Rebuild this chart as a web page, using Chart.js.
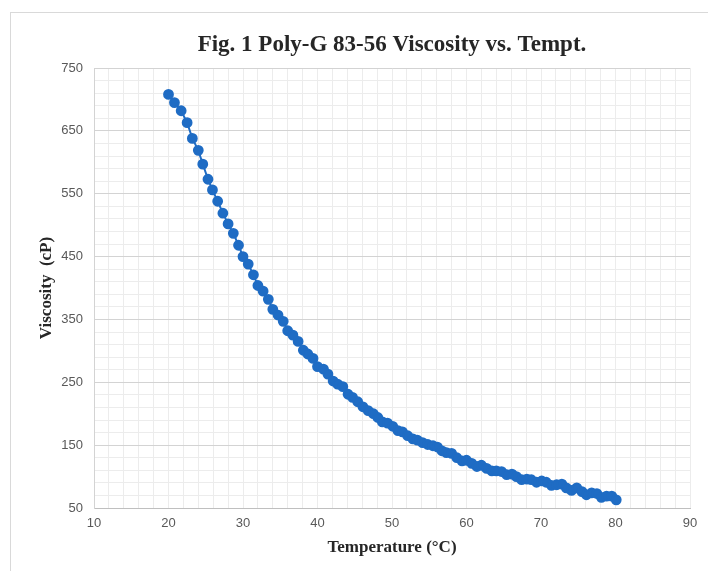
<!DOCTYPE html>
<html>
<head>
<meta charset="utf-8">
<script src="https://cdn.jsdelivr.net/npm/chart.js@4.4.1/dist/chart.umd.min.js"></script>
<style>
    html, body { margin: 0; padding: 0; background: #fff; overflow: hidden; }
    #wrap { position: relative; width: 708px; height: 571px; }
    #frame { position: absolute; left: 10px; top: 12px; width: 720px; height: 600px; border: 1px solid #d9d9d9; box-sizing: border-box; }
    #chart { position: absolute; left: 0; top: 0; }
</style>
</head>
<body>
<div id="wrap">
    <div id="frame"></div>
    <canvas id="chart" width="708" height="571"></canvas>
</div>
<script>
const chartTitle = 'Fig. 1 Poly-G 83-56 Viscosity vs. Tempt.';
const xTitle = 'Temperature (°C)';
const yTitle = 'Viscosity  (cP)';

const temperature = [
    20.0, 20.8, 21.7, 22.5, 23.2, 24.0, 24.6, 25.3, 25.9, 26.6,
    27.3, 28.0, 28.7, 29.4, 30.0, 30.7, 31.4, 32.0, 32.7, 33.4,
    34.0, 34.7, 35.4, 36.0, 36.7, 37.4, 38.1, 38.7, 39.4, 40.0,
    40.8, 41.4, 42.1, 42.7, 43.4, 44.1, 44.7, 45.4, 46.1, 46.8,
    47.5, 48.1, 48.7, 49.4, 50.1, 50.8, 51.4, 52.1, 52.8, 53.4,
    54.1, 54.8, 55.5, 56.1, 56.7, 57.3, 58.0, 58.7, 59.4, 60.0,
    60.7, 61.4, 62.0, 62.7, 63.4, 64.0, 64.7, 65.4, 66.1, 66.7,
    67.4, 68.1, 68.7, 69.4, 70.1, 70.7, 71.4, 72.1, 72.8, 73.4,
    74.1, 74.8, 75.5, 76.1, 76.8, 77.5, 78.1, 78.8, 79.5, 80.1
];
const viscosity = [
    708, 695, 682, 663, 638, 619, 597, 573, 556, 538,
    519, 502, 487, 468, 450, 438, 421, 404, 395, 382,
    366, 357, 347, 332, 325, 315, 301, 295, 288, 275,
    271, 263, 252, 247, 243, 231, 226, 219, 211, 205,
    200, 194, 187, 185, 180, 173, 171, 165, 160, 158,
    154, 151, 149, 147, 141, 138, 137, 130, 125, 126,
    121, 116, 118, 113, 109, 109, 108, 103, 104, 100,
    95, 96, 95, 91, 93, 91, 86, 87, 88, 82,
    78, 82, 76, 71, 74, 73, 67, 69, 69, 63
];

const xMin = 10, xMax = 90, xStep = 2, xLabelEvery = 10;
const yMin = 50, yMax = 750, yStep = 20, yLabelEvery = 100;

const tickFont = { family: '"Liberation Sans", Arial, sans-serif', size: 13 };
const titleFont = 'bold 23px "Liberation Serif", "Times New Roman", serif';
const axisTitleFont = 'bold 17px "Liberation Serif", "Times New Roman", serif';

// titles placed relative to the plot area
const textPlugin = {
    id: 'texts',
    afterDraw(c) {
        const ctx = c.ctx;
        const a = c.chartArea;
        const cx = (a.left + a.right) / 2;
        const cy = (a.top + a.bottom) / 2;
        ctx.save();
        ctx.fillStyle = '#262626';
        ctx.textAlign = 'center';
        ctx.textBaseline = 'middle';
        ctx.font = titleFont;
        ctx.fillText(chartTitle, cx, 45);
        ctx.font = axisTitleFont;
        ctx.fillText(xTitle, cx, 548);
        ctx.translate(47, cy);
        ctx.rotate(-Math.PI / 2);
        ctx.fillText(yTitle, 0, 0);
        ctx.restore();
    }
};

function initChart() {
    const ctx = document.getElementById('chart').getContext('2d');
    const points = temperature.map((t, i) => ({ x: t, y: viscosity[i] }));

    return new Chart(ctx, {
        type: 'scatter',
        data: {
            datasets: [{
                data: points,
                showLine: true,
                borderColor: '#1f6cc4',
                backgroundColor: '#1f6cc4',
                borderWidth: 2,
                pointRadius: 4.4,
                pointHoverRadius: 4.4,
                tension: 0
            }]
        },
        options: {
            responsive: false,
            animation: false,
            devicePixelRatio: 1,
            layout: { padding: { top: 68, right: 18, left: 0, bottom: 0 } },
            plugins: {
                legend: { display: false },
                tooltip: { enabled: false }
            },
            scales: {
                x: {
                    type: 'linear',
                    min: xMin,
                    max: xMax,
                    afterFit: s => { s.height = 63; },
                    afterBuildTicks: s => {
                        s.ticks = [];
                        for (let v = xMin; v <= xMax; v += xStep) s.ticks.push({ value: v });
                    },
                    ticks: {
                        autoSkip: false,
                        maxRotation: 0,
                        color: '#595959',
                        font: tickFont,
                        padding: 8,
                        callback: v => (v % xLabelEvery === 0 ? String(v) : '')
                    },
                    grid: {
                        drawTicks: false,
                        color: c => (c.tick && c.tick.value === xMin ? '#d0d0d0' : '#ececec'),
                        lineWidth: 1
                    },
                    border: { display: true, color: '#bfbfbf' }
                },
                y: {
                    type: 'linear',
                    min: yMin,
                    max: yMax,
                    afterFit: s => { s.width = 94; },
                    afterBuildTicks: s => {
                        s.ticks = [];
                        for (let v = yMin; v <= yMax; v += yStep) s.ticks.push({ value: v });
                    },
                    ticks: {
                        autoSkip: false,
                        color: '#595959',
                        font: tickFont,
                        padding: 11,
                        callback: v => ((v - yMin) % yLabelEvery === 0 ? String(v) : '')
                    },
                    grid: {
                        drawTicks: false,
                        color: c => (c.tick && (c.tick.value - yMin) % yLabelEvery === 0 ? '#d3d3d3' : '#ececec'),
                        lineWidth: 1
                    },
                    border: { display: true, color: '#d3d3d3' }
                }
            }
        },
        plugins: [textPlugin]
    });
}

document.addEventListener('DOMContentLoaded', initChart);
</script>
</body>
</html>
